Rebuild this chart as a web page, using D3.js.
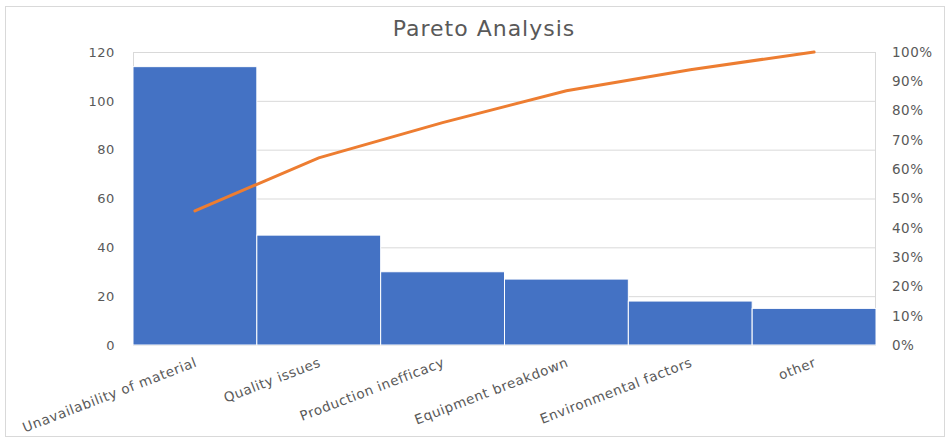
<!DOCTYPE html>
<html><head><meta charset="utf-8">
<script src="https://cdn.jsdelivr.net/npm/d3@7"></script>
<style>body{margin:0;background:#fff}svg{display:block}text{font-family:"DejaVu Sans",sans-serif}</style>
</head><body><svg id="c" width="950" height="439"></svg>
<script>
const categories = ["Unavailability of material","Quality issues","Production inefficacy","Equipment breakdown","Environmental factors","other"];
const counts = [114,45,30,27,18,15];
const leftTicks = [0,20,40,60,80,100,120];
const rightTicks = [0,0.1,0.2,0.3,0.4,0.5,0.6,0.7,0.8,0.9,1.0];

const total = d3.sum(counts);
let run = 0;
const cumulative = counts.map(v => (run += v) / total);

const svg = d3.select("#c");
const m = {left:133, right:876, top:52, bottom:345};
svg.append("rect").attr("x",5.5).attr("y",6.5).attr("width",939).attr("height",430)
  .attr("fill","#fff").attr("stroke","#d9d9d9");

const x = d3.scaleBand().domain(categories).range([m.left,m.right]).padding(0);
const y = d3.scaleLinear().domain([0,120]).range([m.bottom,m.top]);
const y2 = d3.scaleLinear().domain([0,1]).range([m.bottom,m.top]);

// gridlines
svg.append("g").selectAll("line").data(leftTicks).join("line")
  .attr("x1",m.left).attr("x2",m.right).attr("y1",d=>y(d)+0.5).attr("y2",d=>y(d)+0.5)
  .attr("stroke","#d9d9d9");
svg.append("line").attr("x1",m.left+0.5).attr("x2",m.left+0.5).attr("y1",m.top).attr("y2",m.bottom).attr("stroke","#d9d9d9");
svg.append("line").attr("x1",m.right-0.5).attr("x2",m.right-0.5).attr("y1",m.top).attr("y2",m.bottom).attr("stroke","#d9d9d9");

// bars
svg.append("g").selectAll("rect").data(counts).join("rect")
  .attr("x",(d,i)=>x(categories[i])).attr("width",x.bandwidth())
  .attr("y",d=>y(d)).attr("height",d=>y(0)-y(d))
  .attr("fill","#4472C4").attr("stroke","#fff").attr("stroke-width",1);

// line
const line = d3.line().x((d,i)=>x(categories[i])+x.bandwidth()/2).y(d=>y2(d));
svg.append("path").datum(cumulative).attr("d",line).attr("fill","none")
  .attr("stroke","#ED7D31").attr("stroke-width",3).attr("stroke-linecap","round");

// left axis
const la = svg.append("g").attr("transform",`translate(${m.left},0)`)
  .call(d3.axisLeft(y).tickValues(leftTicks).tickSize(0).tickPadding(18));
la.select(".domain").remove();
la.selectAll("text").attr("fill","#595959").style("font-size","13px").style("letter-spacing","0.6px");

// right axis
const ra = svg.append("g").attr("transform",`translate(${m.right},0)`)
  .call(d3.axisRight(y2).tickValues(rightTicks).tickSize(0).tickPadding(16).tickFormat(d3.format(".0%")));
ra.select(".domain").remove();
ra.selectAll("text").attr("fill","#595959").style("font-size","13.5px").style("letter-spacing","0.5px");

// x axis labels
const xa = svg.append("g").attr("transform",`translate(0,${m.bottom})`)
  .call(d3.axisBottom(x).tickSize(0).tickPadding(0));
xa.select(".domain").remove();
xa.selectAll("text").attr("fill","#595959").style("font-size","13.5px").style("letter-spacing","0.6px")
  .attr("text-anchor","end").attr("dy",0).attr("y",0)
  .attr("transform","translate(3,21) rotate(-21)");

svg.append("text").attr("x",484).attr("y",36).attr("text-anchor","middle")
  .attr("fill","#595959").style("font-size","22px").style("letter-spacing","1px").text("Pareto Analysis");
</script></body></html>
